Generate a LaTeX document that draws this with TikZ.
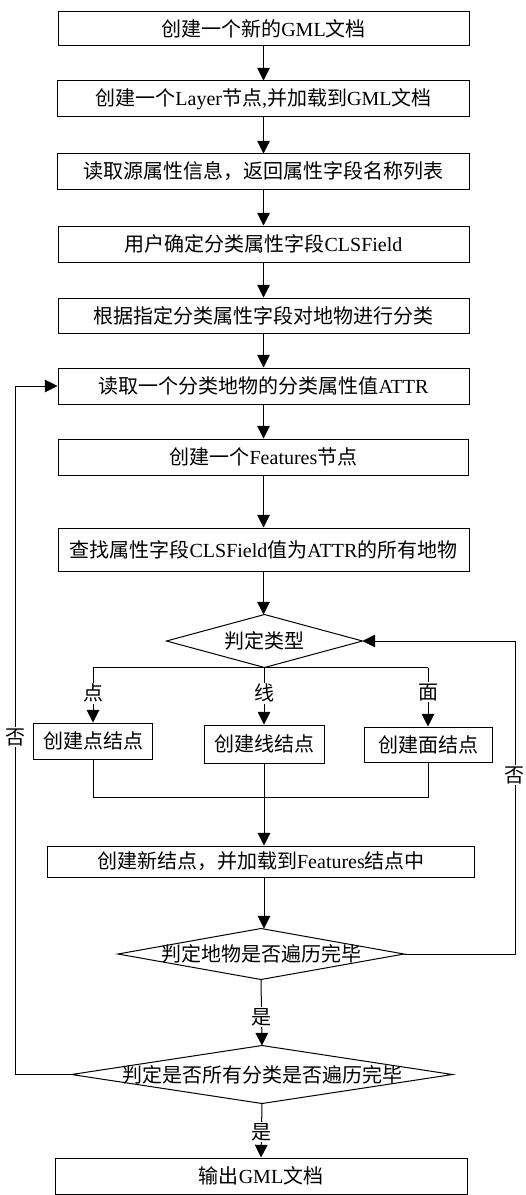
\documentclass[tikz,border=0pt]{standalone}
\usepackage{fontspec}
\setmainfont{Liberation Serif}
\newfontfamily\cjk{Noto Sans CJK SC}
\usetikzlibrary{arrows.meta}
\newcommand\en[1]{{\rmfamily #1}}
\newcommand\pxu{0.75pt}
\begin{document}
\begin{tikzpicture}[x=0.75pt,y=-0.75pt,
  font={\fontsize{15}{18}\selectfont\cjk},
  line width=0.75pt,
  box/.style={draw, rectangle, inner sep=0pt},
  dia/.style={rectangle, inner sep=0pt},
  arr/.style={-{Triangle[length=9.5pt,width=9.5pt]}},
  lbl/.style={fill=white, inner sep=1pt}]
\useasboundingbox (0,0) rectangle (525,1195);

% main boxes
\node[box, minimum width=411*\pxu, minimum height=34*\pxu] (b1) at (263.5,29) {创建一个新的\en{GML}文档};
\node[box, minimum width=412*\pxu, minimum height=36*\pxu] (b2) at (263.5,99) {创建一个\en{Layer}节点\en{,}并加载到\en{GML}文档};
\node[box, minimum width=412*\pxu, minimum height=35*\pxu] (b3) at (263.5,171.5) {读取源属性信息，返回属性字段名称列表};
\node[box, minimum width=411*\pxu, minimum height=36*\pxu] (b4) at (263.5,244) {用户确定分类属性字段\en{CLSField}};
\node[box, minimum width=411*\pxu, minimum height=35*\pxu] (b5) at (263.5,315.5) {根据指定分类属性字段对地物进行分类};
\node[box, minimum width=411*\pxu, minimum height=36*\pxu] (b6) at (263.5,386) {读取一个分类地物的分类属性值\en{ATTR}};
\node[box, minimum width=410*\pxu, minimum height=36*\pxu] (b7) at (263.5,457) {创建一个\en{Features}节点};
\node[box, minimum width=411*\pxu, minimum height=43*\pxu] (b8) at (263.5,549.5) {查找属性字段\en{CLSField}值为\en{ATTR}的所有地物};

% decision: type
\node[dia, minimum width=195*\pxu, minimum height=52*\pxu] (d1) at (264.5,641) {判定类型};
\draw (d1.north) -- (d1.east) -- (d1.south) -- (d1.west) -- cycle;

% three branch boxes
\node[box, minimum width=119*\pxu, minimum height=36*\pxu] (p) at (93,741) {创建点结点};
\node[box, minimum width=120*\pxu, minimum height=38*\pxu] (l) at (264,744) {创建线结点};
\node[box, minimum width=128*\pxu, minimum height=35*\pxu] (m) at (428,744.5) {创建面结点};

\node[box, minimum width=427*\pxu, minimum height=31*\pxu] (b9) at (261,861.5) {创建新结点，并加载到\en{Features}结点中};

\node[dia, minimum width=285*\pxu, minimum height=50*\pxu] (d2) at (261,954) {判定地物是否遍历完毕};
\draw (d2.north) -- (d2.east) -- (d2.south) -- (d2.west) -- cycle;

\node[dia, minimum width=380*\pxu, minimum height=57*\pxu] (d3) at (262,1074.5) {判定是否所有分类是否遍历完毕};
\draw (d3.north) -- (d3.east) -- (d3.south) -- (d3.west) -- cycle;

\node[box, minimum width=412*\pxu, minimum height=36*\pxu] (e) at (261,1176) {输出\en{GML}文档};

% main spine arrows
\draw[arr] (b1) -- (b2);
\draw[arr] (b2) -- (b3);
\draw[arr] (b3) -- (b4);
\draw[arr] (b4) -- (b5);
\draw[arr] (b5) -- (b6);
\draw[arr] (b6) -- (b7);
\draw[arr] (b7) -- (b8);
\draw[arr] (b8.south) -- (b8.south |- d1.north);

% branches
\draw (p.north |- d1.south) -- (m.north |- d1.south);
\draw[arr] (p.north |- d1.south) -- (p.north) node[lbl, pos=0.47] {点};
\draw[arr] (l.north |- d1.south) -- (l.north) node[lbl, pos=0.45] {线};
\draw[arr] (m.north |- d1.south) -- (m.north) node[lbl, pos=0.42] {面};

% merge
\coordinate (mj) at (264,797);
\draw (p.south) |- (mj);
\draw (m.south) |- (mj);
\draw[arr] (l.south) -- (l.south |- b9.north);

\draw[arr] (b9.south -| l.south) -- (d2.north -| l.south);
\draw[arr] (d2.south) -- (d3.north) node[lbl, pos=0.57] {是};
\draw[arr] (d3.south) -- (e.north) node[lbl, pos=0.53] {是};

% loops
\coordinate (L) at (15,0);
\coordinate (R) at (515,0);
\draw[arr] (d3.west) -- (d3.west -| L) -- (L |- b6.west) -- (b6.west);
\node[lbl] (n1) at (15,737) {否};
\draw[arr] (d2.east) -- (d2.east -| R) -- (R |- d1.east) -- (d1.east);
\node[lbl] (n2) at (514,775) {否};
\end{tikzpicture}
\end{document}
